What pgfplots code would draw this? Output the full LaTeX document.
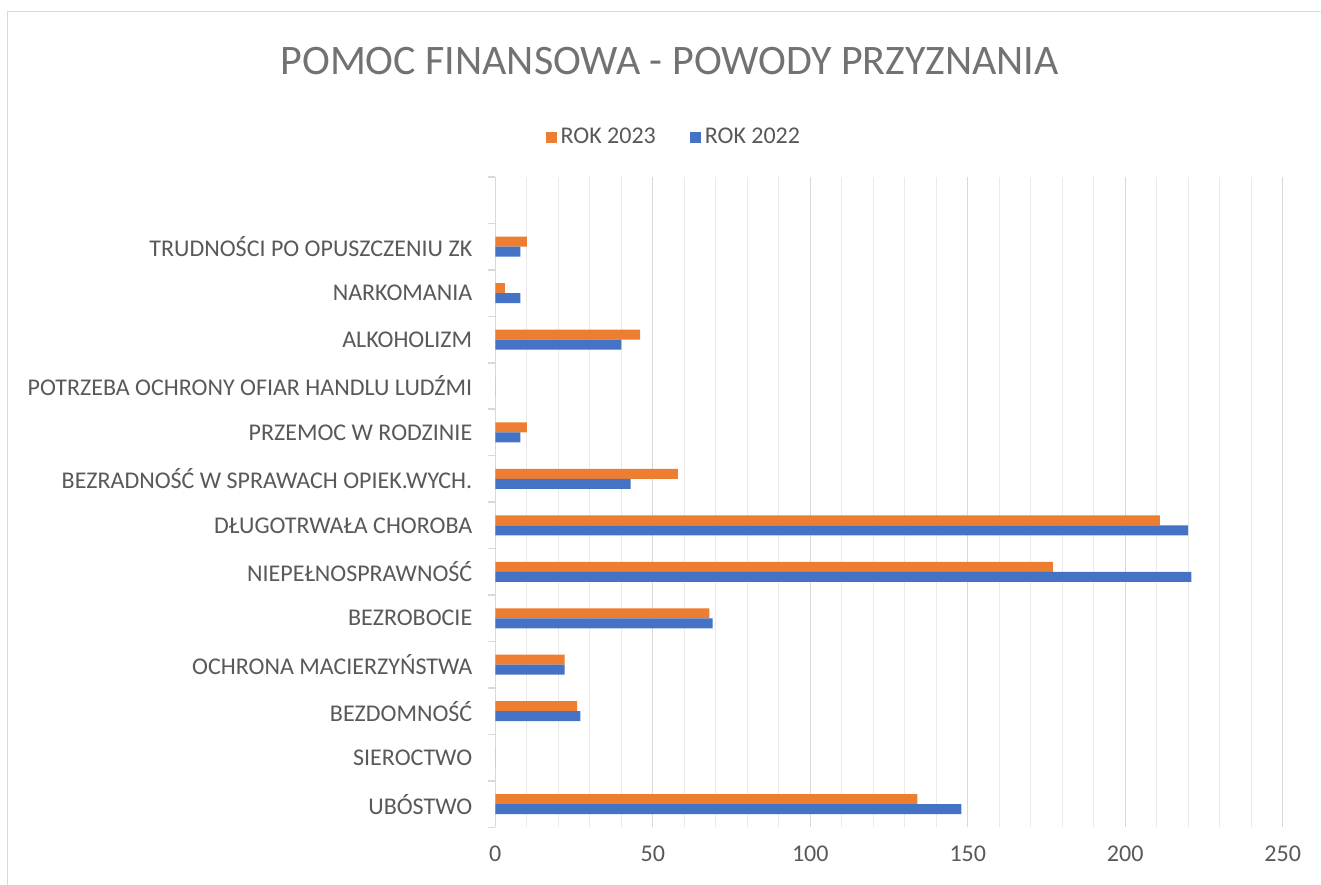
\documentclass[border=0pt]{standalone}
\usepackage{pgfplots}
\pgfplotsset{compat=1.18}
\usepackage{fontspec}
\setmainfont{Carlito}
\definecolor{cOr}{HTML}{ED7D31}
\definecolor{cBl}{HTML}{4472C4}
\definecolor{cTxt}{HTML}{595959}
\definecolor{cMaj}{HTML}{D9D9D9}
\definecolor{cMin}{HTML}{EAEAEA}
\pgfplotstableread{
idx y2023 y2022
0 134 148
1 0 0
2 26 27
3 22 22
4 68 69
5 177 221
6 211 220
7 58 43
8 10 8
9 0 0
10 46 40
11 3 8
12 10 8
}\datatable
\begin{document}
\begin{tikzpicture}[x=1pt,y=1pt]
\useasboundingbox (0,0) rectangle (660.5,442);
\fill[white] (0,0) rectangle (660.5,442);
\draw[cMaj, line width=0.8pt] (3.75,-5) -- (3.75,436.25) -- (670,436.25);
\node[anchor=base, font=\fontsize{21}{25}\selectfont, text=cTxt!85] at (334.75,404.5) {POMOC FINANSOWA - POWODY PRZYZNANIA};
\begin{axis}[
  at={(247.65pt,28.35pt)}, anchor=south west,
  scale only axis, width=393.7pt, height=325.15pt,
  xbar, bar width=5pt,
  xmin=0, xmax=250, ymin=-0.5, ymax=13.5,
  axis x line*=bottom, axis y line*=left,
  axis line style={-},
  x axis line style={draw=none},
  y axis line style={cMaj, line width=0.8pt},
  xtick={0,50,...,250}, minor x tick num=4,
  xmajorgrids, xminorgrids,
  major grid style={cMaj, line width=0.7pt},
  minor grid style={cMin, line width=0.7pt},
  major tick length=0pt, minor tick length=0pt,
  ytick={0,...,12},
  yticklabels={UBÓSTWO, SIEROCTWO, BEZDOMNOŚĆ, OCHRONA MACIERZYŃSTWA, BEZROBOCIE, NIEPEŁNOSPRAWNOŚĆ, DŁUGOTRWAŁA CHOROBA, BEZRADNOŚĆ W SPRAWACH OPIEK.WYCH., PRZEMOC W RODZINIE, POTRZEBA OCHRONY OFIAR HANDLU LUDŹMI, ALKOHOLIZM, NARKOMANIA, TRUDNOŚCI PO OPUSZCZENIU ZK},
  extra y ticks={-0.5,0.5,...,13.5},
  extra y tick labels={},
  extra y tick style={tick align=outside, major tick length=3.5pt, tick style={cMaj, line width=0.8pt}},
  /pgf/number format/assume math mode=true,
  tick label style={font=\fontsize{12}{14}\selectfont, text=cTxt},
  yticklabel style={xshift=-8pt},
  xticklabel style={yshift=-6pt},
  legend style={at={(0.228,1.0615)}, anchor=center, draw=none, fill=none,
    legend columns=2, font=\fontsize{12}{14}\selectfont, text=cTxt,
    /tikz/every even column/.append style={column sep=15pt}},
  legend image code/.code={\fill[#1] (0pt,-2.75pt) rectangle (5.5pt,2.75pt);},
]
\addplot[fill=cOr, draw=none, bar shift=2.5pt] table[x=y2023, y=idx] {\datatable};
\addlegendentry{ROK 2023}
\addplot[fill=cBl, draw=none, bar shift=-2.5pt] table[x=y2022, y=idx] {\datatable};
\addlegendentry{ROK 2022}
\end{axis}
\end{tikzpicture}
\end{document}
